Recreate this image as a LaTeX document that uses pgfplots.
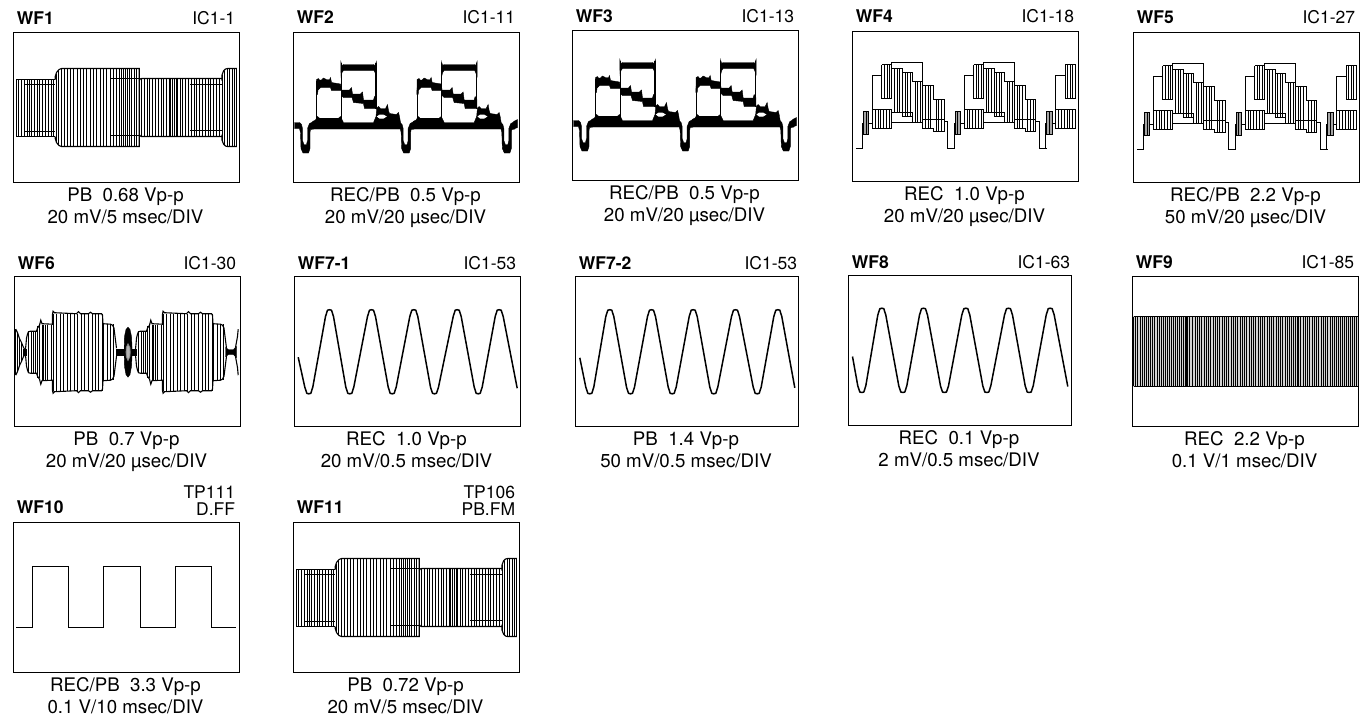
\documentclass[border=0pt]{standalone}
\usepackage{fontspec}
\setmainfont{TeX Gyre Heros}
\usepackage{pgfplots}
\pgfplotsset{compat=1.18}
\newcommand\lab{\fontsize{8.75}{10}\selectfont}
\newcommand\capt{\fontsize{9.35}{10}\selectfont}
% all data are in reference pixels, measured from the top left corner of each screen
\pgfplotsset{wf/.style={
  scale only axis, anchor=north west, height=75pt,
  xmin=0, ymin=0, ymax=150, y dir=reverse,
  xtick=\empty, ytick=\empty, clip=false,
  axis line style={line width=.7pt},
}}
\newcommand\panel[9]{%
  \begin{axis}[wf, at={(#1*0.5pt,#2*-0.5pt)}, width=#3*0.5pt, xmax=#3]
    #9
    \node[inner sep=0pt, font=\lab\bfseries, anchor=base west] at (axis cs:3,#4) {#5};
    \node[inner sep=0pt, font=\lab, anchor=base east] at (axis cs:222,#4) {#6};
    \node[inner sep=0pt, font=\capt, anchor=base] at (axis cs:#3/2-1,169) {#7};
    \node[inner sep=0pt, font=\capt, anchor=base] at (axis cs:#3/2-1,190.7) {#8};
  \end{axis}}
\newcommand\seg[2][0pt]{\addplot[black, line width=.55pt, xshift=#1] coordinates {#2};}
\newcommand\trace[1]{\addplot[black, line width=.75pt, line join=round] coordinates {#1};}
\newcommand\blob[2][0pt]{\addplot[black, fill=black, line width=.2pt, xshift=#1] coordinates {#2} -- cycle;}
% vertical trace lines: half height in pt, then the x positions at their centre height
\newcommand\comb[3][0pt]{\addplot[only marks, mark=|, mark size=#2pt, xshift=#1,
  mark options={line width=.45pt, black}] coordinates {#3};}

% ---- WF1 / WF11
\newcommand\wfone{%
  \seg{(2.5,46.7)(41.7,46.7)}\seg{(2.5,104.3)(41.7,104.3)}
  \seg{(11.7,51.7)(41.7,51.7)}\seg{(11.7,99)(41.7,99)}
  \seg{(41.7,47)(41.7,44)(43,40)(45.5,37)(48,36)(125.7,36)(125.7,114)(48,114)(45.5,113)(43,110)(41.7,106)(41.7,104)}
  \seg{(96.7,46)(125.7,46)}\seg{(96.7,103.3)(125.7,103.3)}
  \seg{(125.7,48)(127,46.3)(128,46)(208.3,46)}\seg{(125.7,102)(127,103.6)(128,104)(208.3,104)}
  \seg{(176.7,51.7)(208.3,51.7)}\seg{(176.7,98.3)(208.3,98.3)}
  \seg{(208.3,48)(208.3,43)(210,38.5)(212,36.5)(214,36)(223.3,36)}
  \seg{(208.3,102)(208.3,107)(210,111.5)(212,113.5)(214,114)(223.3,114)}
  \comb{14.4}{(2.5,75.5)(5.3,75.5)(8.1,75.5)(10.9,75.5)(13.7,75.5)(16,75.5)(18,75.5)(20.8,75.5)(23.6,75.5)(26.4,75.5)(29.2,75.5)(32,75.5)(34.8,75.5)(37.6,75.5)(40.4,75.5)}
  \comb{17}{(43,75)}\comb{18.7}{(45,75)}
  \comb{19.5}{(47.5,75)(50.6,75)(53.8,75)(57,75)(60.2,75)(63.5,75)(66.8,75)(70.1,75)(73.4,75)(76.7,75)(80,75)(83.3,75)(86.6,75)(89.9,75)(93.2,75)(96.5,75)(99.8,75)(103,75)(106,75)(108,75)(110,75)(112,75)(114,75)(116,75)(118,75)(120.5,75)(123,75)(125.5,75)}
  \comb{14.5}{(128,75)(130.8,75)(133.6,75)(136.4,75)(139.2,75)(142,75)(144.8,75)(147.6,75)(150.4,75)(153.2,75)(155.5,75)(157.3,75)(159,75)(160.8,75)(162.6,75)(164.4,75)(166.5,75)(169.3,75)(172.1,75)(174.9,75)(177.7,75)(180.5,75)(183.3,75)(186.1,75)(188.9,75)(191.7,75)(194.5,75)(197.3,75)(200.1,75)(202.9,75)(205.7,75)}
  \comb{16.5}{(209,75)}\comb{18.5}{(211,75)}
  \comb{19.5}{(213.5,75)(216,75)(218.5,75)(221,75)(223.3,75)}
}

% ---- WF2 / WF3
\newcommand\wftwoperiod[1]{%
  \blob[#1]{(19,89)(22,87.5)(24,84)(26,85.7)(45,85.7)(47,84)(50,90)(80,90)(82.5,84)(83.3,75.5)(85,74)(87,76)(92,76)(94,72)(95,78)(96,81)(103,82)(105,80)(106,84)(107,90)(107,96.5)(19,96.5)}
  \addplot[white, fill=white, xshift=#1] coordinates {(84,84)(86,82.6)(90,82.6)(92.5,84)(90,85.6)(86,85.6)} -- cycle;
  \seg[#1]{(23,48)(23,86)}\seg[#1]{(47.7,30)(47.7,91)}\seg[#1]{(82.5,30)(82.5,76)}
  \blob[#1]{(23,47)(25,46)(26,47.5)(28,47.5)(30,45.5)(33,47)(36,47)(37,45)(38,50)(44,51)(47,51.5)(48,58)(38,58)(37,55)(30,55)(27,55)(24.5,57.5)(24,62)(22.7,62)}
  \blob[#1]{(47.3,29)(48.5,33)(50,32)(80,32)(81.5,33)(82.9,29)(83,44)(81.5,40)(80.5,38)(50,38)(48.5,40)(47.5,44)}
  \blob[#1]{(48,57.5)(56,57.5)(58,55)(59,61.5)(67,61.5)(69,59.5)(70,67.5)(80,67.5)(81,64)(82.7,67)(82.7,76)(71,76)(70,71)(60,70)(58.5,65)(50,65)(48,63)}
}
\newcommand\wftwodip[1]{%
  \blob[#1]{(1,90)(6,90)(8,92)(9,96)(9,108)(10.5,112)(13,112)(14,108)(14,96)(16,91)(20,89)(20,96.5)(17,97)(16.5,100)(16.5,116)(15,120.5)(9.5,120.5)(7.5,116)(7,100)(6,96)(1,96)}
}
\newcommand\wftwo{%
  \wftwoperiod{0pt}\wftwoperiod{50.33pt}
  \wftwodip{0pt}\wftwodip{50.33pt}\wftwodip{100.67pt}
  \blob{(220,89)(224,87)(224,95)(220,96.5)}
}

% ---- WF4 / WF5
\newcommand\wffourA[1]{%
  \seg[#1]{(3.3,117)(10,117)(10,92.3)(11,92.3)}
  \addplot[draw=black, line width=.5pt, fill=gray!70, xshift=#1] coordinates {(11,80)(16.3,80)(16.3,103.3)(11,103.3)} -- cycle;
  \comb[#1]{5.8}{(13.6,91.7)}
  \seg[#1]{(16.3,91.7)(20,91.7)}
  \seg[#1]{(20,97.3)(20,44.3)(29.3,44.3)}
  \seg[#1]{(20,77.7)(39.3,77.7)(39.3,97.3)(20,97.3)}
  \comb[#1]{4.9}{(22.8,87.5)(25.6,87.5)(28.4,87.5)(31.2,87.5)(34,87.5)(36.8,87.5)}
  \seg[#1]{(29.3,33.3)(39.3,33.3)(39.3,66.7)(29.3,66.7)(29.3,33.3)}
  \comb[#1]{8.35}{(32,50)(34.5,50)(37,50)}
}
\newcommand\wffourB[1]{%
  \seg[#1]{(39.3,36.7)(39.3,31.3)(70.3,31.3)(70.3,97.3)}
  \seg[#1]{(39.3,36.7)(50,36.7)(50,41.3)(60.3,41.3)(60.3,50)(70.3,50)}
  \seg[#1]{(70.3,53.7)(81,53.7)(81,68)(91.7,68)(91.7,99.7)(81,99.7)(81,97.3)(70.3,97.3)}
  \seg[#1]{(39.3,80.7)(60.3,80.7)(60.3,91.3)}\seg[#1]{(39.3,91.3)(70.3,91.3)}
  \seg[#1]{(50,41.3)(50,84.7)(60.3,84.7)}
  \seg[#1]{(70.3,88)(91.7,88)}
  \seg[#1]{(91.7,89.7)(95,89.7)(95,117)(102.7,117)}
  \comb[#1]{11}{(42,58.7)(44.7,58.7)(47.4,58.7)}
  \comb[#1]{10.85}{(52.5,63)(55,63)(57.7,63)}
  \comb[#1]{10.4}{(62.8,70.85)(65.3,70.85)(67.8,70.85)}
  \comb[#1]{10.9}{(73,75.5)(75.7,75.5)(78.4,75.5)}
  \comb[#1]{7.9}{(83.7,83.85)(86.4,83.85)(89,83.85)}
}
\newcommand\wffour{%
  \wffourA{0pt}\wffourB{0pt}\wffourA{45.85pt}\wffourB{45.85pt}\wffourA{91.7pt}
}

% ---- WF6
\newcommand\wfsixhump[1]{%
  \seg[#1]{(11,72.7)(11.5,67.7)(12,61.7)(13,57.7)(14,55.2)(16,54.7)(22,54.7)(23,51.7)(25,48.7)(26.3,43.7)(27.5,47.2)(37.8,47.7)(38,37.7)(38.6,34.7)(40,36.2)(62,37.2)(64,35.2)(66,37.2)(74,37.2)(76,35.7)(78,37.2)(87,37.2)(88,38.7)(88.5,47.2)(96,47.7)(98,48.7)(99.5,51.7)(100.5,59.7)(101.5,67.7)(102,71.7)}
  \seg[#1]{(11,78.7)(11.5,83.7)(12,89.7)(13,93.7)(14,96.2)(16,96.7)(22,96.7)(23,99.7)(25,102.7)(26.3,107.7)(27.5,104.2)(37.8,103.7)(38,113.7)(38.6,116.7)(40,115.2)(62,114.2)(64,116.2)(66,114.2)(74,114.2)(76,115.7)(78,114.2)(87,114.2)(88,112.7)(88.5,104.2)(96,103.7)(98,102.7)(99.5,99.7)(100.5,91.7)(101.5,83.7)(102,79.7)}
  \comb[#1]{10.5}{(14,75.7)(16.5,75.7)(19,75.7)(21,75.7)}
  \comb[#1]{13}{(23,75.7)(25,75.7)}
  \comb[#1]{13.75}{(27.5,75.7)(29,75.7)(31,75.7)(33,75.7)(37,75.7)}
  \comb[#1]{19.25}{(38.5,75.7)(42,75.7)(45.5,75.7)(49,75.7)(52.5,75.7)(55.5,75.7)(59.5,75.7)(63,75.7)(66.5,75.7)(70,75.7)(74,75.7)(77.5,75.7)(81,75.7)(84,75.7)(88,75.7)}
  \comb[#1]{14}{(89,75.7)(92.5,75.7)(96,75.7)(99,75.7)}
}
\newcommand\wfsix{%
  \seg{(1.3,52.7)(3,56)(5,62)(7,66)(9,71)(10.5,73)}
  \seg{(1.3,98.7)(3,95)(5,89)(7,85)(9,80)(10.5,78)}
  \comb{11.5}{(1.3,75.7)}\comb{9.75}{(3,75.7)}\comb{6.75}{(5,75.7)}\comb{4.5}{(7,75.7)}
  \blob{(8.5,73)(11.5,73)(11.5,78.5)(8.5,78.5)}
  \wfsixhump{0pt}\wfsixhump{55pt}
  \blob{(102,73)(122,73)(122,79)(102,79)}
  \blob{(113.5,50.7)(115.5,53)(117,60)(117.5,70)(117.5,80)(117,90)(115.5,98)(113.5,100.7)(111.5,98)(110,90)(109.7,80)(109.7,70)(110,60)(111.5,53)}
  \addplot[gray, fill=gray!60] coordinates {(113.5,67.3)(115.4,71)(115.7,75.7)(115.4,80)(113.5,84)(111.8,80)(111.6,75.7)(111.8,71)} -- cycle;
  \blob{(211,71)(214,73)(219,73)(222,70)(222,81)(219,78)(214,78)(211,80)}
  \seg{(221,71)(223,60)(223.7,52.7)}\seg{(221,80)(223,91)(223.7,98.7)}
}

% ---- WF9
\newcommand\wfnine{%
  \addplot[gray!35, fill=gray!35, line width=0pt] coordinates {(1,40.3)(225,40.3)(225,109.7)(1,109.7)} -- cycle;
  \seg{(1,40.3)(225,40.3)}\seg{(1,109.7)(225,109.7)}
  \comb{17.35}{(1,75)(3,75)(5,75)(7.5,75)(9.5,75)(11.5,75)(13.5,75)(16,75)(18,75)(20,75)(22,75)(24.5,75)(26.5,75)(28.5,75)(30.5,75)(32.5,75)(34.5,75)(36.5,75)(38.5,75)(40.5,75)(42.5,75)(44.5,75)(46.5,75)(48.5,75)(50.5,75)(52.5,75)(53.7,75)(54.5,75)(57,75)(60,75)(62.5,75)(65,75)(67,75)(69,75)(71.5,75)(74,75)(76,75)(78,75)(80.5,75)(83,75)(85,75)(87,75)(89.5,75)(92,75)(94,75)(96,75)(98.5,75)(101,75)(103,75)(105,75)(107.5,75)(110,75)(112,75)(114,75)(116.5,75)(119,75)(121,75)(123,75)(125.5,75)(128,75)(130,75)(132,75)(134.5,75)(137,75)(139,75)(141,75)(143.5,75)(146,75)(148,75)(150,75)(152.5,75)(155,75)(157,75)(159,75)(161,75)(163,75)(165,75)(166,75)(168,75)(170.5,75)(173,75)(175,75)(177,75)(179.5,75)(182,75)(184,75)(186,75)(188.5,75)(191,75)(193,75)(195,75)(197.5,75)(200,75)(202,75)(204,75)(206,75)(208,75)(210,75)(212,75)(214,75)(216,75)(218,75)(220,75)(222,75)(224,75)}
  \comb{17.35}{(53.2,75)(53.9,75)(164.6,75)(165.4,75)}
}

\begin{document}
\begin{tikzpicture}
\useasboundingbox (0,0) rectangle (681pt,-360pt);

\panel{13.5}{32.5}{226}{-8.5}{WF1}{IC1-1}{PB\ \ 0.68 Vp-p}{20 mV/5 msec/DIV}{\wfone}
\panel{293.5}{32.5}{226}{-9}{WF2}{IC1-11}{REC/PB\ \ 0.5 Vp-p}{20 mV/20 µsec/DIV}{\wftwo}
\panel{572.5}{30.5}{226}{-8}{WF3}{IC1-13}{REC/PB\ \ 0.5 Vp-p}{20 mV/20 µsec/DIV}{\wftwo}
\panel{852.5}{31.5}{226}{-8.8}{WF4}{IC1-18}{REC\ \ 1.0 Vp-p}{20 mV/20 µsec/DIV}{\wffour}
\panel{1133.5}{32.5}{226}{-9}{WF5}{IC1-27}{REC/PB\ \ 2.2 Vp-p}{50 mV/20 µsec/DIV}{\wffour}

\panel{14.5}{276.5}{226}{-7.5}{WF6}{IC1-30}{PB\ \ 0.7 Vp-p}{20 mV/20 µsec/DIV}{\wfsix}
\panel{294.5}{276.5}{226}{-7.5}{WF7-1}{IC1-53}{REC\ \ 1.0 Vp-p}{20 mV/0.5 msec/DIV}{%
  \trace{(3.7,80.7)(10.3,110.6)(12.3,116.8)(14.3,117.3)(16.3,116.8)(18.3,110.6)(31,40)(33,33.7)(35,33.2)(37,33.7)(39,40)(51.3,110.6)(53.3,116.8)(55.3,117.3)(57.3,116.8)(59.3,110.6)(73,40)(75,33.7)(77,33.2)(79,33.7)(81,40)(93.7,110.6)(95.7,116.8)(97.7,117.3)(99.7,116.8)(101.7,110.6)(115.3,40)(117.3,33.7)(119.3,33.2)(121.3,33.7)(123.3,40)(136,110.6)(138,116.8)(140,117.3)(142,116.8)(144,110.6)(158.7,40)(160.7,33.7)(162.7,33.2)(164.7,33.7)(166.7,40)(179.7,110.6)(181.7,116.8)(183.7,117.3)(185.7,116.8)(187.7,110.6)(200.7,40)(202.7,33.7)(204.7,33.2)(206.7,33.7)(208.7,40)(222.7,111.7)}}
\panel{575.5}{276.5}{223}{-7.5}{WF7-2}{IC1-53}{PB\ \ 1.4 Vp-p}{50 mV/0.5 msec/DIV}{%
  \trace{(4.3,81.3)(10.3,110.6)(12.3,116.8)(14.3,117.3)(16.3,116.8)(18.3,110.6)(30.3,40)(32.3,33.7)(34.3,33.2)(36.3,33.7)(38.3,40)(51,110.6)(53,116.8)(55,117.3)(57,116.8)(59,110.6)(72,40)(74,33.7)(76,33.2)(78,33.7)(80,40)(92.7,110.6)(94.7,116.8)(96.7,117.3)(98.7,116.8)(100.7,110.6)(113.7,40)(115.7,33.7)(117.7,33.2)(119.7,33.7)(121.7,40)(134.3,110.6)(136.3,116.8)(138.3,117.3)(140.3,116.8)(142.3,110.6)(156,40)(158,33.7)(160,33.2)(162,33.7)(164,40)(177.7,110.6)(179.7,116.8)(181.7,117.3)(183.7,116.8)(185.7,110.6)(198.3,40)(200.3,33.7)(202.3,33.2)(204.3,33.7)(206.3,40)(219.3,111.3)}}
\panel{848.5}{275.5}{223}{-7.5}{WF8}{IC1-63}{REC\ \ 0.1 Vp-p}{2 mV/0.5 msec/DIV}{%
  \trace{(4,81)(9.3,110.4)(11.3,116.5)(13.3,117)(15.3,116.5)(17.3,110.4)(29.3,39.5)(31.3,33.2)(33.3,32.7)(35.3,33.2)(37.3,39.5)(50.3,110.4)(52.3,116.5)(54.3,117)(56.3,116.5)(58.3,110.4)(71,39.5)(73,33.2)(75,32.7)(77,33.2)(79,39.5)(92,110.4)(94,116.5)(96,117)(98,116.5)(100,110.4)(113.3,39.5)(115.3,33.2)(117.3,32.7)(119.3,33.2)(121.3,39.5)(134.3,110.4)(136.3,116.5)(138.3,117)(140.3,116.5)(142.3,110.4)(156,39.5)(158,33.2)(160,32.7)(162,33.2)(164,39.5)(176.7,110.4)(178.7,116.5)(180.7,117)(182.7,116.5)(184.7,110.4)(197.7,39.5)(199.7,33.2)(201.7,32.7)(203.7,33.2)(205.7,39.5)(219.3,111)}}
\panel{1132.5}{276.5}{226}{-8}{WF9}{IC1-85}{REC\ \ 2.2 Vp-p}{0.1 V/1 msec/DIV}{\wfnine}

\panel{13.5}{522.5}{226}{-9}{WF10}{}{REC/PB\ \ 3.3 Vp-p}{0.1 V/10 msec/DIV}{%
  \addplot[black, line width=.6pt] coordinates {(2.7,105.3)(19,105.3)(19,44.3)(55,44.3)(55,105.3)(90.3,105.3)(90.3,44.3)(126.7,44.3)(126.7,105.3)(161.7,105.3)(161.7,44.3)(198,44.3)(198,105.3)(222.3,105.3)};
  \node[inner sep=0pt, font=\lab, anchor=base east] at (axis cs:222,-24) {TP111};
  \node[inner sep=0pt, font=\lab, anchor=base east] at (axis cs:222,-7.3) {D.FF};}
\panel{293.5}{522.5}{226}{-9}{WF11}{}{PB\ \ 0.72 Vp-p}{20 mV/5 msec/DIV}{%
  \wfone
  \node[inner sep=0pt, font=\lab, anchor=base east] at (axis cs:222,-24) {TP106};
  \node[inner sep=0pt, font=\lab, anchor=base east] at (axis cs:222,-7.3) {PB.FM};}
\end{tikzpicture}
\end{document}
